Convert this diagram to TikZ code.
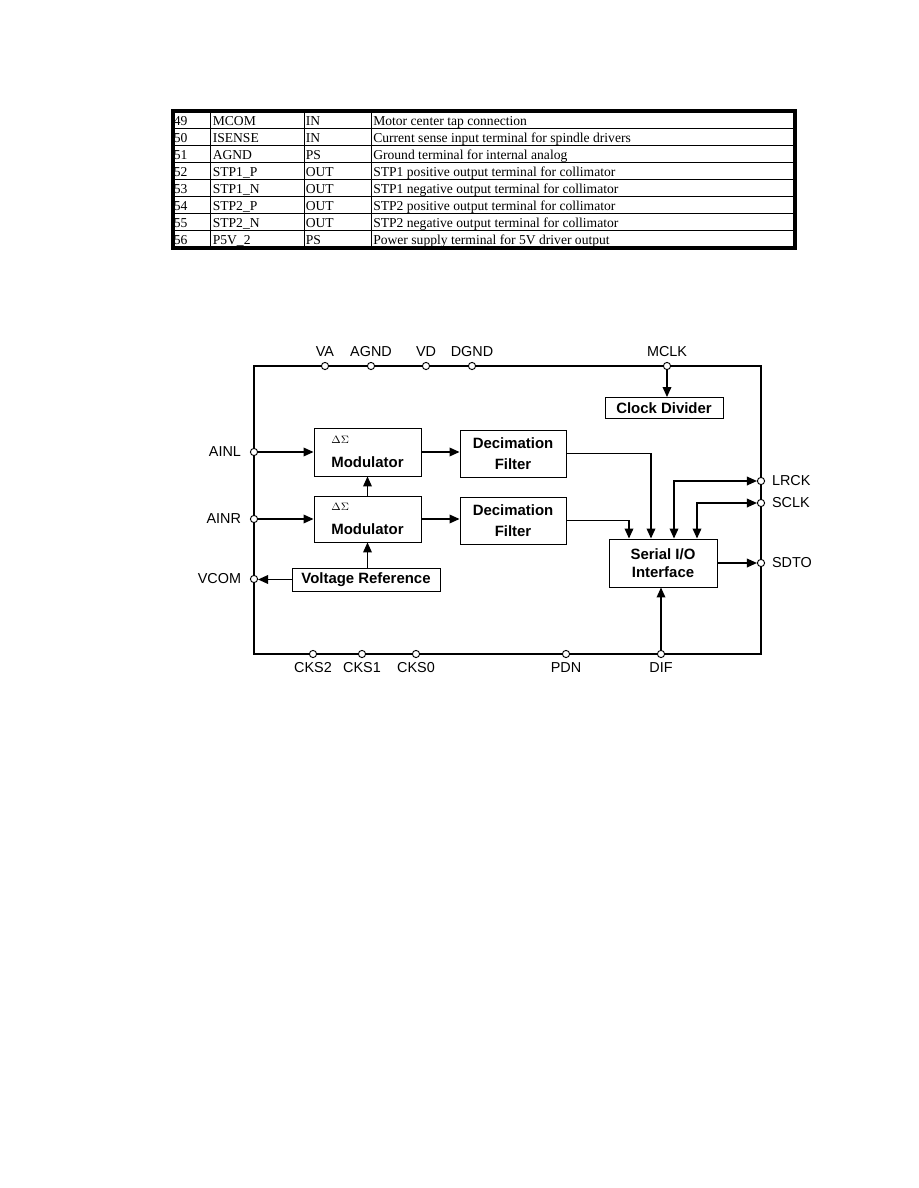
\documentclass[tikz,border=0pt]{standalone}
\usepackage{fontspec}
\setmainfont{Liberation Serif}
\newfontfamily\chipsans{Liberation Sans}
\usetikzlibrary{positioning,arrows.meta}

\tikzset{
  pin/.style={circle,draw,fill=white,line width=0.7pt,inner sep=0pt,minimum size=5.4pt},
  pinlbl/.style={font=\chipsans\fontsize{10.8}{12}\selectfont,inner sep=1pt},
  blk/.style={draw,line width=0.7pt,fill=white,inner sep=0pt,align=center,
    font=\chipsans\bfseries\fontsize{11.2}{15}\selectfont},
  wire/.style={line width=1pt},
  cell/.style={font=\fontsize{10.2}{12}\selectfont,anchor=base west,inner sep=0pt}
}

\begin{document}
\begin{tikzpicture}[x=0.75pt,y=-0.75pt,>={Triangle[length=7.5pt,width=6.5pt]}]
\useasboundingbox (0,0) rectangle (918,1188);

% pin table
\foreach \n/\sig/\dir/\txt [count=\i from 0] in {
  49/MCOM/IN/Motor center tap connection,
  50/ISENSE/IN/Current sense input terminal for spindle drivers,
  51/AGND/PS/Ground terminal for internal analog,
  52/STP1\_P/OUT/STP1 positive output terminal for collimator,
  53/STP1\_N/OUT/STP1 negative output terminal for collimator,
  54/STP2\_P/OUT/STP2 positive output terminal for collimator,
  55/STP2\_N/OUT/STP2 negative output terminal for collimator,
  56/P5V\_2/PS/Power supply terminal for 5V driver output}{
  \node[cell] (num\n) at (173.5,{125.4+\i*16.95}) {\n};
  \node[cell] (sig\n) at (212.5,{125.4+\i*16.95}) {\sig};
  \node[cell] (dir\n) at (305.5,{125.4+\i*16.95}) {\dir};
  \node[cell] (txt\n) at (373,{125.4+\i*16.95}) {\txt};
}
\foreach \k in {1,...,7}
  \draw[line width=0.7pt] (173,{111.4+\k*16.95}) -- (794.5,{111.4+\k*16.95});
\foreach \c in {210.7,304.3,371.7}
  \draw[line width=0.7pt] (\c,111) -- (\c,248);
\draw[line width=3pt] (173,111) rectangle (794.5,248);

% chip outline
\draw[line width=2.2pt] (254,366) rectangle (761,654);

% pins
\node[pin] (va)   at (325,366) {};
\node[pin] (agnd) at (371,366) {};
\node[pin] (vd)   at (426,366) {};
\node[pin] (dgnd) at (472,366) {};
\node[pin] (mclk) at (667,366) {};
\node[pin] (ainl) at (254,452) {};
\node[pin] (ainr) at (254,519) {};
\node[pin] (vcom) at (254,579) {};
\node[pin] (lrck) at (761,481) {};
\node[pin] (sclk) at (761,503) {};
\node[pin] (sdto) at (761,563) {};
\node[pin] (cks2) at (313,654) {};
\node[pin] (cks1) at (362,654) {};
\node[pin] (cks0) at (416,654) {};
\node[pin] (pdn)  at (566,654) {};
\node[pin] (dif)  at (661,654) {};

\node[pinlbl,above=3pt of va]   (vaT)   {VA};
\node[pinlbl,above=3pt of agnd] (agndT) {AGND};
\node[pinlbl,above=3pt of vd]   (vdT)   {VD};
\node[pinlbl,above=3pt of dgnd] (dgndT) {DGND};
\node[pinlbl,above=3pt of mclk] (mclkT) {MCLK};
\node[pinlbl,left=5.5pt of ainl]  (ainlT) {AINL};
\node[pinlbl,left=5.5pt of ainr]  (ainrT) {AINR};
\node[pinlbl,left=5.5pt of vcom]  (vcomT) {VCOM};
\node[pinlbl,right=4pt of lrck]   (lrckT) {LRCK};
\node[pinlbl,right=4pt of sclk]   (sclkT) {SCLK};
\node[pinlbl,right=4pt of sdto]   (sdtoT) {SDTO};
\node[pinlbl,below=2.4pt of cks2] (cks2T) {CKS2};
\node[pinlbl,below=2.4pt of cks1] (cks1T) {CKS1};
\node[pinlbl,below=2.4pt of cks0] (cks0T) {CKS0};
\node[pinlbl,below=2.4pt of pdn]  (pdnT)  {PDN};
\node[pinlbl,below=2.4pt of dif]  (difT)  {DIF};

% blocks
\node[blk,align=left,minimum width=80.25pt,minimum height=36pt] (modL) at (367.5,452)
  {{\normalfont\fontsize{8}{8}\selectfont$\Delta\Sigma$}\\[2.75pt]Modulator};
\node[blk,align=left,minimum width=80.25pt,minimum height=34.5pt] (modR) at (367.5,519)
  {{\normalfont\fontsize{8}{8}\selectfont$\Delta\Sigma$}\\[2.75pt]Modulator};
\node[blk,minimum width=79.5pt,minimum height=35.25pt] (decL) at (513,453.5) {Decimation\\[0.75pt]Filter};
\node[blk,minimum width=79.5pt,minimum height=35.25pt] (decR) at (513,520.5) {Decimation\\[0.75pt]Filter};
\node[blk,minimum width=111pt,minimum height=17.25pt] (vref) at (366,579.5) {Voltage Reference};
\node[blk,minimum width=88.5pt,minimum height=15.75pt] (clkdiv) at (664,408) {Clock Divider};
\node[blk,minimum width=81pt,minimum height=36pt] (sio) at (663,563) {Serial I/O\\[-1.8pt]Interface};

\coordinate (sioA) at ([xshift=-25.5pt]sio.north);
\coordinate (sioB) at ([xshift=-9pt]sio.north);
\coordinate (sioC) at ([xshift=8.25pt]sio.north);
\coordinate (sioD) at ([xshift=25.5pt]sio.north);

% connections
\draw[wire,->] (ainl) -- (ainl -| modL.west);
\draw[wire,->] (ainr) -- (ainr -| modR.west);
\draw[wire,->] (modL.east) -- (modL.east -| decL.west);
\draw[wire,->] (modR.east) -- (modR.east -| decR.west);
\draw[wire,->] (modR.north) -- (modL.south);
\draw[wire,->] (vref.north -| modR.south) -- (modR.south);
\draw[wire,->] (vref.west) -- (vref.west -| vcom.east);
\draw[wire,->] (mclk) -- (mclk |- clkdiv.north);
\draw[wire,->] (decL.east) -| (sioB);
\draw[wire,->] (decR.east) -| (sioA);
\draw[wire,<->] (sioC) |- (lrck.west);
\draw[wire,<->] (sioD) |- (sclk.west);
\draw[wire,->] (sio.east) -- (sio.east -| sdto.west);
\draw[wire,->] (dif) -- (dif |- sio.south);
\end{tikzpicture}
\end{document}
